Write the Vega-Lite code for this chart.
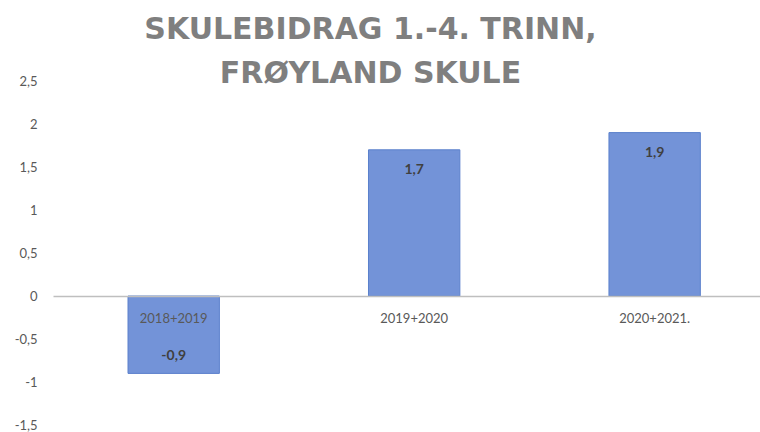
{
  "$schema": "https://vega.github.io/schema/vega-lite/v6.json",
  "autosize": {"type": "none"},
  "padding": {"left": 53, "top": 81, "right": 0, "bottom": 7},
  "width": 707,
  "height": 344,
  "background": "#ffffff",
  "title": {
    "text": ["SKULEBIDRAG 1.-4. TRINN,", "FRØYLAND SKULE"],
    "anchor": "middle",
    "dx": -36,
    "offset": -14,
    "font": "DejaVu Sans",
    "fontSize": 30,
    "fontWeight": "bold",
    "color": "#7F7F7F",
    "lineHeight": 44
  },
  "data": {
    "values": [
      {"periode": "2018+2019", "verdi": -0.9},
      {"periode": "2019+2020", "verdi": 1.7},
      {"periode": "2020+2021.", "verdi": 1.9}
    ]
  },
  "encoding": {
    "x": {
      "field": "periode",
      "type": "nominal",
      "sort": null,
      "scale": {"paddingInner": 0.62, "paddingOuter": 0.28, "align": 0.557},
      "axis": {
        "title": null,
        "labelAngle": 0,
        "ticks": false,
        "offset": -129,
        "domainColor": "#BFBFBF",
        "domainWidth": 1.5,
        "labelPadding": 16,
        "labelFont": "Lato",
        "labelFontSize": 13,
        "labelColor": "#595959",
        "zindex": 1
      }
    },
    "y": {
      "field": "verdi",
      "type": "quantitative",
      "scale": {"domain": [-1.5, 2.5], "nice": false, "zero": false},
      "axis": {
        "title": null,
        "values": [-1.5, -1, -0.5, 0, 0.5, 1, 1.5, 2, 2.5],
        "format": ".1~f",
        "grid": false,
        "domain": false,
        "ticks": false,
        "labelPadding": 16,
        "labelFont": "Lato",
        "labelFontSize": 13,
        "labelColor": "#595959"
      }
    }
  },
  "layer": [
    {
      "mark": {"type": "bar", "color": "#7393D8", "stroke": "#5B80CC", "strokeWidth": 1}
    },
    {
      "transform": [{"filter": "datum.verdi >= 0"}],
      "mark": {"type": "text", "baseline": "middle", "dy": 20, "font": "Lato", "fontSize": 14, "fontWeight": "bold", "color": "#404040"},
      "encoding": {"text": {"field": "verdi", "type": "quantitative", "format": ".1f"}}
    },
    {
      "transform": [{"filter": "datum.verdi < 0"}],
      "mark": {"type": "text", "baseline": "middle", "dy": -17, "font": "Lato", "fontSize": 14, "fontWeight": "bold", "color": "#404040"},
      "encoding": {"text": {"field": "verdi", "type": "quantitative", "format": ".1f"}}
    }
  ],
  "config": {
    "view": {"stroke": null},
    "locale": {
      "number": {"decimal": ",", "thousands": " ", "grouping": [3], "currency": ["", " kr"], "minus": "-"}
    }
  }
}
